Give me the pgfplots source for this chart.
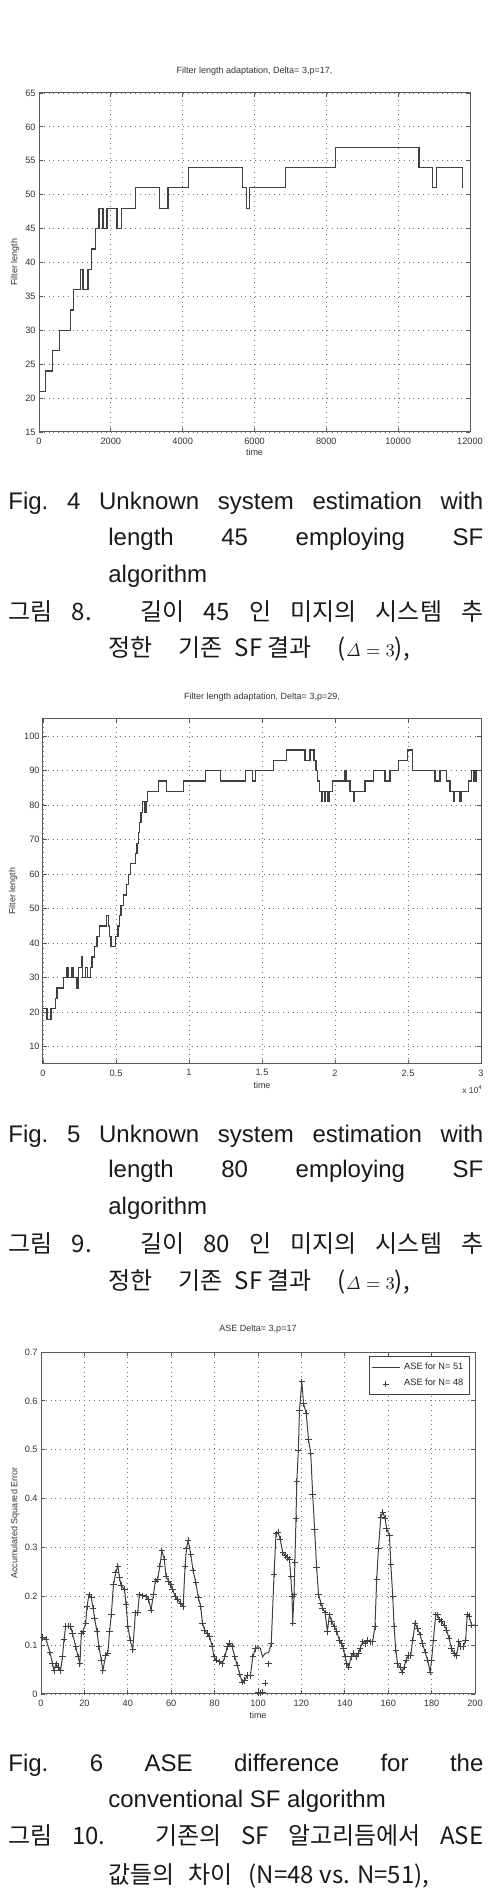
\documentclass[border=0pt]{standalone}
\usepackage[no-math]{fontspec}
\setmainfont{Liberation Sans}
\newfontfamily\kr{Noto Sans CJK KR}
\usepackage{pgfplots}
\pgfplotsset{compat=1.18}
\usepackage{pgfplotstable}

\pgfplotstableread{
t v
0 21
186 24
372 27
576 30
873 33
966 36
1161 39
1226 36
1365 39
1467 42
1579 45
1672 48
1783 45
1895 48
2173 45
2294 48
2684 51
3362 48
3594 51
4152 54
5666 51
5777 48
5870 51
6873 54
8266 57
10579 54
10951 51
11071 54
11780 51
}\lenA

\pgfplotstableread{
t v
0 21
274 18
547 21
844 24
958 27
1414 30
1597 33
1711 30
1985 33
2099 30
2327 27
2441 33
2623 36
2692 30
2897 33
3057 30
3239 33
3353 36
3513 39
3695 42
3878 45
4334 48
4471 45
4562 42
4653 39
4950 42
5132 45
5246 48
5338 51
5520 54
5703 57
5839 60
5976 63
6318 66
6432 69
6524 72
6615 75
6706 78
6820 81
6957 78
7048 81
7162 84
7915 87
8485 84
9626 87
11108 90
12180 87
13846 90
14347 87
14575 90
15785 93
16651 96
17951 93
18294 96
18568 93
18704 90
18818 87
18933 84
19050 81
19140 84
19280 81
19370 84
19500 81
19590 84
19845 87
20689 90
20803 87
21031 84
21259 81
21350 84
22057 87
22628 90
23426 87
23768 90
24339 93
24977 96
25319 90
26848 87
27190 90
27646 87
27874 84
28102 81
28190 84
28558 81
28650 84
29128 87
29356 90
29516 87
29653 90
30000 90
}\lenB

\pgfplotstableread{
x a b
0.8 0.116 0.116
2.3 0.112 0.112
4.1 0.086 0.086
5.3 0.062 0.062
6.0 0.048 0.048
6.9 0.062 0.062
7.9 0.055 0.055
9.0 0.048 0.048
9.9 0.076 0.076
10.6 0.112 0.112
11.4 0.138 0.138
12.5 0.139 0.139
13.6 0.138 0.138
14.5 0.124 0.124
16.0 0.097 0.097
17.1 0.076 0.076
17.9 0.062 0.062
18.6 0.124 0.124
19.4 0.128 0.128
20.6 0.145 0.145
21.2 0.179 0.179
22.1 0.203 0.203
23.2 0.197 0.197
24.0 0.176 0.176
24.7 0.155 0.155
25.8 0.128 0.128
26.7 0.097 0.097
27.8 0.069 0.069
28.5 0.048 0.048
29.8 0.079 0.079
30.8 0.084 0.084
31.6 0.128 0.128
32.4 0.162 0.162
33.4 0.224 0.224
34.4 0.248 0.248
35.4 0.262 0.262
36.2 0.238 0.238
36.9 0.222 0.222
38.5 0.214 0.214
39.2 0.183 0.183
40.0 0.139 0.139
41.1 0.110 0.110
42.3 0.091 0.091
43.5 0.166 0.166
44.6 0.166 0.166
45.3 0.203 0.203
46.9 0.201 0.201
48.4 0.199 0.199
49.6 0.193 0.193
50.7 0.172 0.172
51.8 0.203 0.203
52.7 0.231 0.231
53.7 0.234 0.234
54.8 0.262 0.262
55.7 0.293 0.293
56.8 0.276 0.276
57.6 0.241 0.241
58.8 0.231 0.231
59.8 0.224 0.224
60.6 0.215 0.215
61.8 0.200 0.200
62.9 0.193 0.193
64.4 0.186 0.186
65.5 0.179 0.179
66.4 0.262 0.262
67.0 0.297 0.297
67.8 0.314 0.314
69.0 0.286 0.286
70.1 0.252 0.252
71.3 0.229 0.229
72.5 0.197 0.197
73.6 0.179 0.179
74.4 0.145 0.145
75.4 0.131 0.131
76.6 0.124 0.124
77.7 0.117 0.117
78.9 0.097 0.097
79.7 0.076 0.076
80.8 0.069 0.069
82.3 0.066 0.066
83.5 0.062 0.062
84.7 0.076 0.076
85.8 0.097 0.097
86.9 0.103 0.103
88.1 0.097 0.097
89.3 0.076 0.076
90.4 0.059 0.059
91.6 0.041 0.041
92.7 0.024 0.024
93.9 0.028 0.028
95.0 0.038 0.038
96.5 0.038 0.038
97.6 0.076 0.076
98.8 0.093 0.093
100.0 0.097 0.003
101.1 0.093 0.002
102.1 0.076 0.004
103.3 0.083 0.022
104.9 0.085 0.062
106.1 0.103 0.103
107.4 0.245 0.245
108.3 0.328 0.328
109.2 0.331 0.331
110.2 0.317 0.317
111.4 0.290 0.290
112.5 0.283 0.283
113.6 0.279 0.279
114.5 0.276 0.276
115.1 0.241 0.241
115.7 0.200 0.200
116.0 0.145 0.145
116.6 0.203 0.203
117.0 0.269 0.269
117.5 0.359 0.359
117.9 0.435 0.435
118.6 0.499 0.499
119.1 0.581 0.581
120.2 0.639 0.639
121.0 0.594 0.594
122.2 0.575 0.575
123.3 0.520 0.520
124.3 0.493 0.493
125.2 0.408 0.408
126.1 0.337 0.337
127.0 0.260 0.260
127.9 0.203 0.203
129.0 0.186 0.186
129.8 0.176 0.176
130.9 0.166 0.166
132.0 0.128 0.128
132.9 0.162 0.162
134.0 0.148 0.148
135.1 0.138 0.138
136.3 0.128 0.128
137.5 0.110 0.110
138.6 0.103 0.103
139.4 0.093 0.093
140.1 0.076 0.076
140.9 0.062 0.062
141.8 0.055 0.055
142.9 0.076 0.076
144.0 0.083 0.083
145.2 0.076 0.076
146.3 0.083 0.083
147.0 0.093 0.093
148.3 0.107 0.107
149.3 0.103 0.103
150.4 0.110 0.110
151.6 0.107 0.107
152.8 0.107 0.107
153.9 0.138 0.138
154.7 0.234 0.234
155.5 0.297 0.297
156.6 0.362 0.362
157.5 0.372 0.372
158.6 0.359 0.359
159.3 0.338 0.338
160.6 0.324 0.324
161.2 0.266 0.266
162.1 0.200 0.200
162.7 0.138 0.138
163.5 0.090 0.090
164.3 0.062 0.062
165.5 0.055 0.055
166.4 0.045 0.045
167.3 0.055 0.055
168.2 0.069 0.069
169.3 0.079 0.079
170.4 0.079 0.079
171.3 0.110 0.110
172.4 0.145 0.145
173.5 0.134 0.134
174.7 0.121 0.121
175.8 0.103 0.103
177.0 0.086 0.086
178.2 0.069 0.069
179.3 0.045 0.045
180.0 0.069 0.069
180.8 0.110 0.110
181.9 0.162 0.162
182.7 0.162 0.162
183.6 0.152 0.152
184.6 0.148 0.148
185.7 0.141 0.141
186.9 0.131 0.131
188.0 0.114 0.114
189.2 0.093 0.093
190.3 0.083 0.083
191.5 0.079 0.079
192.6 0.107 0.107
193.5 0.097 0.097
194.6 0.097 0.097
195.7 0.110 0.110
196.4 0.162 0.162
197.3 0.159 0.159
198.4 0.141 0.141
200.0 0.141 0.141
}\ase

\newcommand{\capf}{\fontsize{12}{14}\selectfont}
\newcommand{\dl}{\mbox{\fontsize{9.5}{10}\selectfont$\mathit{\Delta}=3$}}

\pgfplotsset{
  mat/.style={
    scale only axis,
    anchor=south west,
    axis line style={black!65, line width=0.5pt},
    grid=major,
    major grid style={black!55, dotted, line width=0.45pt},
    tick align=inside,
    major tick length=2pt,
    every tick/.style={black!65, line width=0.4pt},
    /pgf/number format/assume math mode=true,
    /pgf/number format/1000 sep={},
    scaled x ticks=false, scaled y ticks=false,
    tick label style={font=\fontsize{4.6}{5}\selectfont, text=black!80, inner sep=0pt},
    xticklabel style={anchor=north, yshift=-2.6pt},
    yticklabel style={anchor=east, xshift=-1.5pt},
    title style={font=\fontsize{4.5}{5}\selectfont, text=black!80, inner sep=0pt, anchor=base, at={(axis description cs:0.5,1)}},
    label style={font=\fontsize{4.5}{5}\selectfont, text=black!80, inner sep=0pt},
  }
}

\begin{document}
\begin{tikzpicture}
\useasboundingbox (0,0) rectangle (247pt,946.5pt);

% ---------- Plot 1 ----------
\begin{axis}[mat, at={(19.5pt,730.5pt)}, width=215.5pt, height=169.5pt,
  xmin=0, xmax=12000, ymin=15, ymax=65,
  xtick={0,2000,...,12000}, ytick={15,20,...,65},
  title={Filter length adaptation, Delta= 3,p=17,}, title style={yshift=3.5pt},
  xlabel={time}, xlabel style={at={([yshift=-10pt]axis description cs:0.5,0)}, anchor=center},
  ylabel={Filter length}, ylabel style={at={([xshift=-12pt]axis description cs:0,0.5)}, anchor=center}]
\addplot[const plot, black!75, line width=0.6pt] table[x=t, y=v]{\lenA};
\end{axis}

% ---------- Plot 2 ----------
\begin{axis}[mat, name=p2, at={(21.5pt,414.5pt)}, width=219pt, height=172.5pt,
  xmin=0, xmax=30000, ymin=5, ymax=105,
  xtick={0,5000,...,30000}, xticklabels={0,0.5,1,1.5,2,2.5,3}, ytick={10,20,...,100},
  title={Filter length adaptation, Delta= 3,p=29,}, title style={yshift=3.9pt},
  xlabel={time}, xlabel style={at={([yshift=-10.5pt]axis description cs:0.5,0)}, anchor=center},
  ylabel={Filter length}, ylabel style={at={([xshift=-15pt]axis description cs:0,0.5)}, anchor=center}]
\addplot[const plot, black!75, line width=0.6pt] table[x=t, y=v]{\lenB};
\end{axis}
\node[anchor=east, inner sep=0pt, font=\fontsize{4.2}{5}\selectfont, text=black!80, xshift=1pt, yshift=-13pt] at (p2.south east) {x 10\textsuperscript{4}};

% ---------- Plot 3 ----------
\begin{axis}[mat, at={(20.5pt,99.5pt)}, width=217pt, height=171pt,
  xmin=0, xmax=200, ymin=0, ymax=0.7,
  xtick={0,20,...,200}, ytick={0,0.1,...,0.7},
  yticklabel style={/pgf/number format/fixed, /pgf/number format/precision=1},
  title={ASE Delta= 3,p=17}, title style={yshift=4.4pt},
  xlabel={time}, xlabel style={at={([yshift=-10.5pt]axis description cs:0.5,0)}, anchor=center},
  ylabel={Accumulated Squared Error}, ylabel style={at={([xshift=-13pt]axis description cs:0,0.5)}, anchor=center},
  legend style={at={(rel axis cs:0.988,0.988)}, anchor=north east, draw=black!75, line width=0.5pt,
    font=\fontsize{4.6}{5}\selectfont, text=black!85, inner sep=1pt, row sep=-0.5pt, cells={anchor=west}},
  legend image code/.code={\draw[mark repeat=2,mark phase=2,#1] plot coordinates {(0pt,0pt)(7pt,0pt)(14pt,0pt)};}]
\addplot[black!75, line width=0.5pt] table[x=x, y=a]{\ase};
\addlegendentry{ASE for N= 51}
\addplot[only marks, mark=+, mark size=1.6pt, black!75, mark options={line width=0.45pt}] table[x=x, y=b]{\ase};
\addlegendentry{ASE for N= 48}
\end{axis}

% ---------- Captions ----------
\begin{scope}[every node/.style={anchor=base west, inner sep=0pt, font=\capf, text=black!90}]
\node at (4pt,691.5pt) {\makebox[237.5pt][s]{Fig.\ 4 Unknown system estimation with}};
\node at (54pt,673.5pt) {\makebox[187.5pt][s]{length 45 employing SF}};
\node at (54pt,655pt) {algorithm};
\node at (4pt,636pt) {\kr\makebox[237.5pt][s]{그림 8. 길이 45 인 미지의 시스템 추}};
\node at (54pt,618pt) {\kr 정한\hspace{13pt}기존\hspace{6pt}SF 결과\hspace{13pt}(\dl),};

\node at (4pt,375pt) {\makebox[237.5pt][s]{Fig.\ 5 Unknown system estimation with}};
\node at (54pt,357.5pt) {\makebox[187.5pt][s]{length 80 employing SF}};
\node at (54pt,339pt) {algorithm};
\node at (4pt,320pt) {\kr\makebox[237.5pt][s]{그림 9. 길이 80 인 미지의 시스템 추}};
\node at (54pt,301.5pt) {\kr 정한\hspace{13pt}기존\hspace{6pt}SF 결과\hspace{13pt}(\dl),};

\node at (4pt,60.5pt) {\makebox[237.5pt][s]{Fig.\ 6 ASE difference for the}};
\node at (54pt,42.5pt) {conventional SF algorithm};
\node at (4pt,24pt) {\kr\makebox[237.5pt][s]{그림 10. 기존의 SF 알고리듬에서 ASE}};
\node at (54pt,5pt) {\kr 값들의\hspace{7pt}차이\hspace{8pt}(N=48 vs. N=51),};
\end{scope}
\end{tikzpicture}
\end{document}
